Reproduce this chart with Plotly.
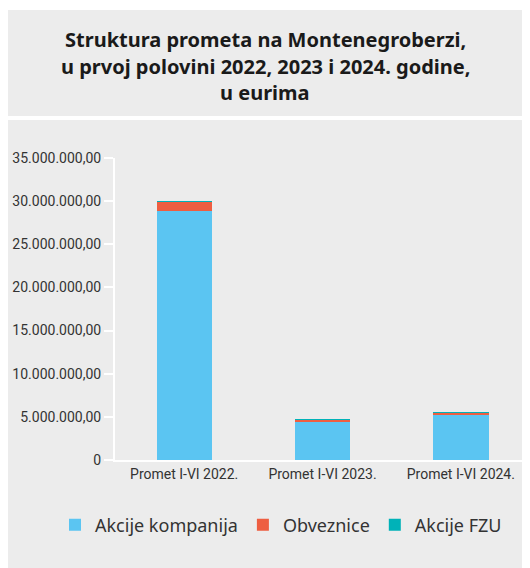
import plotly.graph_objects as go

categories = ["Promet I-VI 2022.", "Promet I-VI 2023.", "Promet I-VI 2024."]
akcije_kompanija = [28900000, 4500000, 5200000]
obveznice = [1050000, 230000, 350000]
akcije_fzu = [15000, 12000, 5000]

tick_vals = [0, 5000000, 10000000, 15000000, 20000000, 25000000, 30000000, 35000000]
tick_text = ["0", "5.000.000,00", "10.000.000,00", "15.000.000,00", "20.000.000,00",
             "25.000.000,00", "30.000.000,00", "35.000.000,00"]

title_lines = ["Struktura prometa na Montenegroberzi,",
               "u prvoj polovini 2022, 2023 i 2024. godine,",
               "u eurima"]

# page has an 8px body margin: figure coordinates = page coordinates - 8
OFF = 8
W, H = 522, 560
L, R, T, B = 107, 0, 150, 108
pw, ph = W - L - R, H - T - B


def px(x):
    return (x - OFF - L) / pw


def py(y):
    return (H - B - (y - OFF)) / ph


fig = go.Figure()
fig.add_bar(x=categories, y=akcije_kompanija, name="Akcije kompanija", marker_color="#5bc5f2",
            marker_line_width=0)
fig.add_bar(x=categories, y=obveznice, name="Obveznice", marker_color="#ee5e41",
            marker_line_width=0)
fig.add_bar(x=categories, y=akcije_fzu, name="Akcije FZU", marker_color="#00b2b8",
            marker_line_width=0)

bg = "#ececec"
fig.add_shape(type="rect", xref="paper", yref="paper", x0=px(7), x1=px(540), y0=py(116), y1=py(10),
              fillcolor=bg, line_width=0, layer="below")
fig.add_shape(type="rect", xref="paper", yref="paper", x0=px(7), x1=px(540), y0=py(580), y1=py(120),
              fillcolor=bg, line_width=0, layer="below")

for txt, yc in zip(title_lines, [39, 66, 93]):
    fig.add_annotation(
        text=txt, xref="paper", yref="paper", x=px(265), y=py(yc),
        xanchor="center", yanchor="middle", showarrow=False,
        font=dict(family="Noto Sans", size=20, color="#1a1a1a", weight="bold"),
    )

fig.update_layout(
    width=W, height=H,
    margin=dict(l=L, r=R, t=T, b=B),
    barmode="stack",
    bargap=0.6,
    paper_bgcolor="white",
    plot_bgcolor="rgba(0,0,0,0)",
    legend=dict(
        orientation="h", xref="paper", yref="paper",
        x=px(55), y=py(525), xanchor="left", yanchor="middle",
        font=dict(family="Noto Sans", size=18, color="#333333"),
        bgcolor="rgba(0,0,0,0)", traceorder="normal",
    ),
    showlegend=True,
)

fig.update_yaxes(
    range=[0, 35000000], tickvals=tick_vals, ticktext=tick_text,
    showgrid=False, zeroline=False,
    showline=True, linecolor="white", linewidth=2,
    ticks="outside", tickcolor="white", ticklen=9, tickwidth=2,
    tickfont=dict(family="Roboto", size=14, color="#333333"),
)
fig.update_xaxes(
    showgrid=False, zeroline=False,
    showline=True, linecolor="white", linewidth=2,
    ticks="",
    tickfont=dict(family="Roboto", size=14, color="#333333"),
)

fig.write_html("out.html")
